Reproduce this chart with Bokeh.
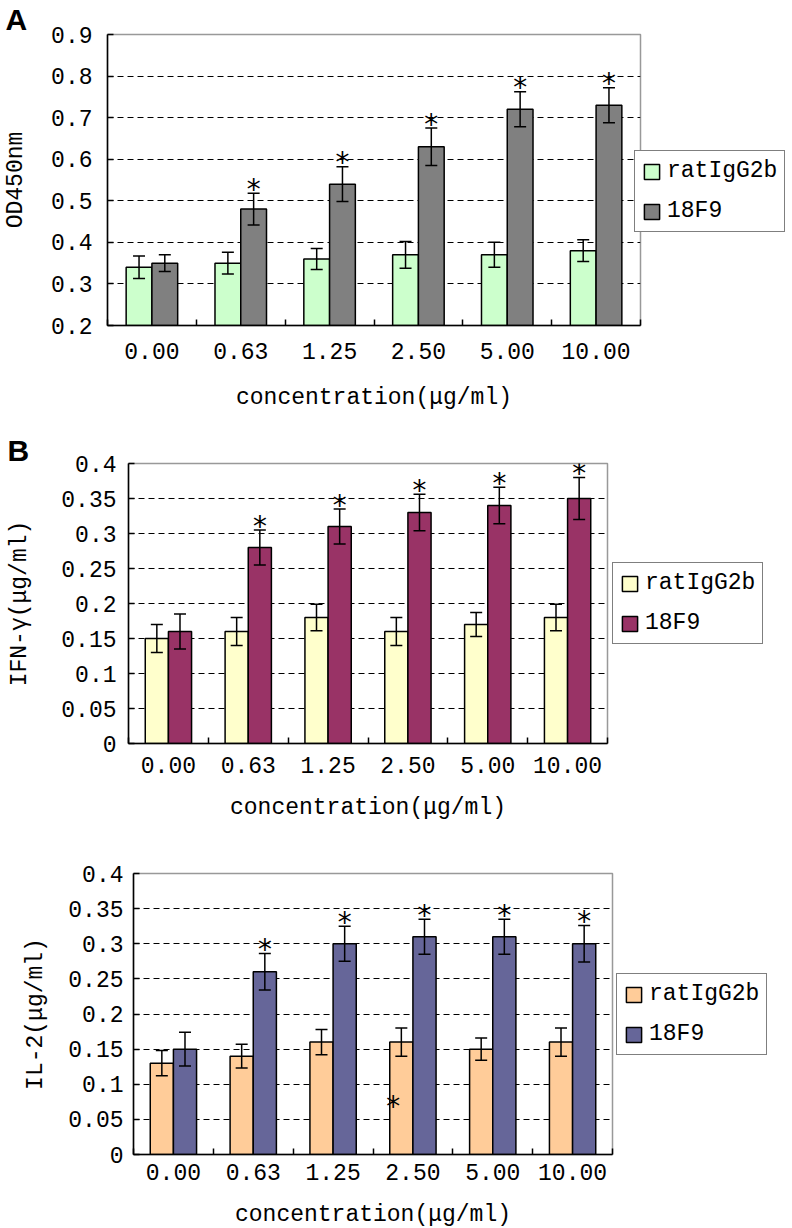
from bokeh.plotting import figure
from bokeh.models import (ColumnDataSource, Whisker, TeeHead, FixedTicker, Legend,
                          LegendItem, Range1d, CustomJSTickFormatter)
from bokeh.layouts import column, row
from bokeh.embed import file_html
from bokeh.resources import INLINE
from bokeh.core.properties import value

# ---------------- data ----------------
categories = ["0.00", "0.63", "1.25", "2.50", "5.00", "10.00"]
series_names = ["ratIgG2b", "18F9"]

od_rat = [0.34, 0.35, 0.36, 0.37, 0.37, 0.38]
od_rat_err = [0.027, 0.026, 0.025, 0.032, 0.030, 0.026]
od_18f9 = [0.35, 0.48, 0.54, 0.63, 0.72, 0.73]
od_18f9_err = [0.020, 0.038, 0.042, 0.045, 0.042, 0.042]
od_sig = [False, True, True, True, True, True]
od_ticks = [0.2, 0.3, 0.4, 0.5, 0.6, 0.7, 0.8, 0.9]

ifn_rat = [0.15, 0.16, 0.18, 0.16, 0.17, 0.18]
ifn_rat_err = [0.020, 0.020, 0.019, 0.020, 0.017, 0.019]
ifn_18f9 = [0.16, 0.28, 0.31, 0.33, 0.34, 0.35]
ifn_18f9_err = [0.025, 0.025, 0.025, 0.026, 0.026, 0.030]
ifn_sig = [False, True, True, True, True, True]

il2_rat = [0.13, 0.14, 0.16, 0.16, 0.15, 0.16]
il2_rat_err = [0.018, 0.017, 0.018, 0.020, 0.016, 0.020]
il2_18f9 = [0.15, 0.26, 0.30, 0.31, 0.31, 0.30]
il2_18f9_err = [0.024, 0.026, 0.025, 0.025, 0.025, 0.026]
il2_sig = [False, True, True, True, True, True]
il2_extra_star = ("2.50", 0.076)

conc_ticks = [0, 0.05, 0.1, 0.15, 0.2, 0.25, 0.3, 0.35, 0.4]

colors_A = ["#CCFFCC", "#808080"]
colors_B = ["#FFFFCC", "#993366"]
colors_C = ["#FFCC99", "#666699"]

FONT = "Liberation Mono"
STAR_FONT = "DejaVu Sans Mono"
FS = "23px"
BAR_W = 0.29


def make_panel(rat, rat_err, f9, f9_err, sig, colors, yticks, ylabel,
               frame_w, frame_h, border, ystand, xstand, legend_loc,
               letter=None, letter_off=(0, 0), extra=None):
    n = len(categories)
    ylo, yhi = yticks[0], yticks[-1]
    p = figure(frame_width=frame_w, frame_height=frame_h,
               x_range=Range1d(-0.5, n - 0.5), y_range=Range1d(ylo, yhi),
               output_backend="svg", toolbar_location=None,
               min_border_left=border[0], min_border_right=border[1],
               min_border_top=border[2], min_border_bottom=border[3])
    p.background_fill_color = "white"
    p.border_fill_color = "white"
    p.outline_line_color = "#999999"
    p.outline_line_width = 1.5

    idx = list(range(n))
    x_rat = [i - BAR_W / 2 for i in idx]
    x_f9 = [i + BAR_W / 2 for i in idx]

    r1 = p.vbar(x=x_rat, top=rat, bottom=ylo, width=BAR_W, fill_color=colors[0],
                line_color="black", line_width=1.5)
    r2 = p.vbar(x=x_f9, top=f9, bottom=ylo, width=BAR_W, fill_color=colors[1],
                line_color="black", line_width=1.5)

    for xs, vals, errs in ((x_rat, rat, rat_err), (x_f9, f9, f9_err)):
        src = ColumnDataSource(dict(base=xs,
                                    upper=[v + e for v, e in zip(vals, errs)],
                                    lower=[v - e for v, e in zip(vals, errs)]))
        w = Whisker(base="base", upper="upper", lower="lower", source=src,
                    dimension="height", line_width=1.5, line_color="black",
                    upper_head=TeeHead(size=12, line_width=1.5, line_color="black"),
                    lower_head=TeeHead(size=12, line_width=1.5, line_color="black"),
                    level="overlay")
        p.add_layout(w)

    sx = [x for x, s in zip(x_f9, sig) if s]
    sy = [v + e for v, e, s in zip(f9, f9_err, sig) if s]
    p.text(x=sx, y=sy, text=["*"] * len(sx), text_font=value(STAR_FONT),
           text_font_size="28px", text_align="center", text_baseline="alphabetic",
           y_offset=-4, text_color="black")
    if extra is not None:
        ei = categories.index(extra[0])
        p.text(x=[ei - BAR_W * 0.85], y=[extra[1]], text=["*"], text_font=value(STAR_FONT),
               text_font_size="28px", text_align="center", text_baseline="alphabetic",
               y_offset=5, text_color="black")

    # x axis
    xa = p.xaxis[0]
    xa.ticker = FixedTicker(ticks=idx, minor_ticks=[i - 0.5 for i in range(n + 1)])
    xa.major_label_overrides = {i: c for i, c in zip(idx, categories)}
    xa.major_tick_in = 0
    xa.major_tick_out = 0
    xa.minor_tick_in = 6
    xa.minor_tick_out = 0
    xa.minor_tick_line_color = "black"
    xa.minor_tick_line_width = 1.5
    xa.axis_line_color = "black"
    xa.axis_line_width = 1.5
    xa.axis_label = "concentration(μg/ml)"
    xa.major_label_standoff = xstand[0]
    xa.axis_label_standoff = xstand[1]

    # y axis
    ya = p.yaxis[0]
    ya.ticker = FixedTicker(ticks=yticks)
    ya.formatter = CustomJSTickFormatter(code="return String(Number(tick.toFixed(2)));")
    ya.major_tick_in = 6
    ya.major_tick_out = 0
    ya.minor_tick_in = 0
    ya.minor_tick_out = 0
    ya.major_tick_line_width = 1.5
    ya.axis_line_color = "black"
    ya.axis_line_width = 1.5
    ya.axis_label = ylabel
    ya.major_label_standoff = ystand[0]
    ya.axis_label_standoff = ystand[1]

    for ax in (xa, ya):
        ax.major_label_text_font = FONT
        ax.major_label_text_font_size = FS
        ax.major_label_text_color = "black"
        ax.axis_label_text_font = FONT
        ax.axis_label_text_font_size = FS
        ax.axis_label_text_font_style = "normal"
        ax.axis_label_text_color = "black"

    p.xgrid.visible = False
    p.ygrid.ticker = FixedTicker(ticks=yticks[1:-1])
    p.ygrid.grid_line_color = "black"
    p.ygrid.grid_line_width = 1
    p.ygrid.grid_line_dash = "6 4"

    legend = Legend(items=[LegendItem(label=series_names[0], renderers=[r1]),
                           LegendItem(label=series_names[1], renderers=[r2])],
                    location=legend_loc)
    legend.border_line_color = "black"
    legend.border_line_width = 1.5
    legend.background_fill_color = "white"
    legend.background_fill_alpha = 1.0
    legend.padding = 7
    legend.spacing = 14
    legend.margin = 0
    legend.glyph_width = 19
    legend.glyph_height = 19
    legend.label_standoff = 6
    legend.label_text_font = FONT
    legend.label_text_font_size = FS
    legend.label_text_color = "black"
    p.add_layout(legend, "right")

    if letter is not None:
        p.title.text = letter
        p.title.align = "left"
        p.title.offset = letter_off[0]
        p.title.standoff = letter_off[1]
        p.title.text_font = "Liberation Sans"
        p.title.text_font_style = "bold"
        p.title.text_font_size = "30px"
        p.title.text_color = "black"
    return p


pA = make_panel(od_rat, od_rat_err, od_18f9, od_18f9_err, od_sig, colors_A, od_ticks,
                "OD450nm", 533, 291, (107, 152, 34, 93), (15, 19), (17, 23),
                (-6, 93), letter="A", letter_off=(-102, -2))
pB = make_panel(ifn_rat, ifn_rat_err, ifn_18f9, ifn_18f9_err, ifn_sig, colors_B,
                conc_ticks, "IFN-γ(μg/ml)", 479, 280, (128, 185, 45, 87), (12, 25),
                (13, 19), (5, 99), letter="B", letter_off=(-121, -7))
pC = make_panel(il2_rat, il2_rat_err, il2_18f9, il2_18f9_err, il2_sig, colors_C,
                conc_ticks, "IL-2(μg/ml)", 479, 281, (133, 180, 43, 74), (10, 16),
                (9, 19), (4, 99), extra=il2_extra_star)

layout = column(row(pA), row(pB), row(pC), spacing=0)
open("out.html", "w").write(file_html(layout, INLINE))
